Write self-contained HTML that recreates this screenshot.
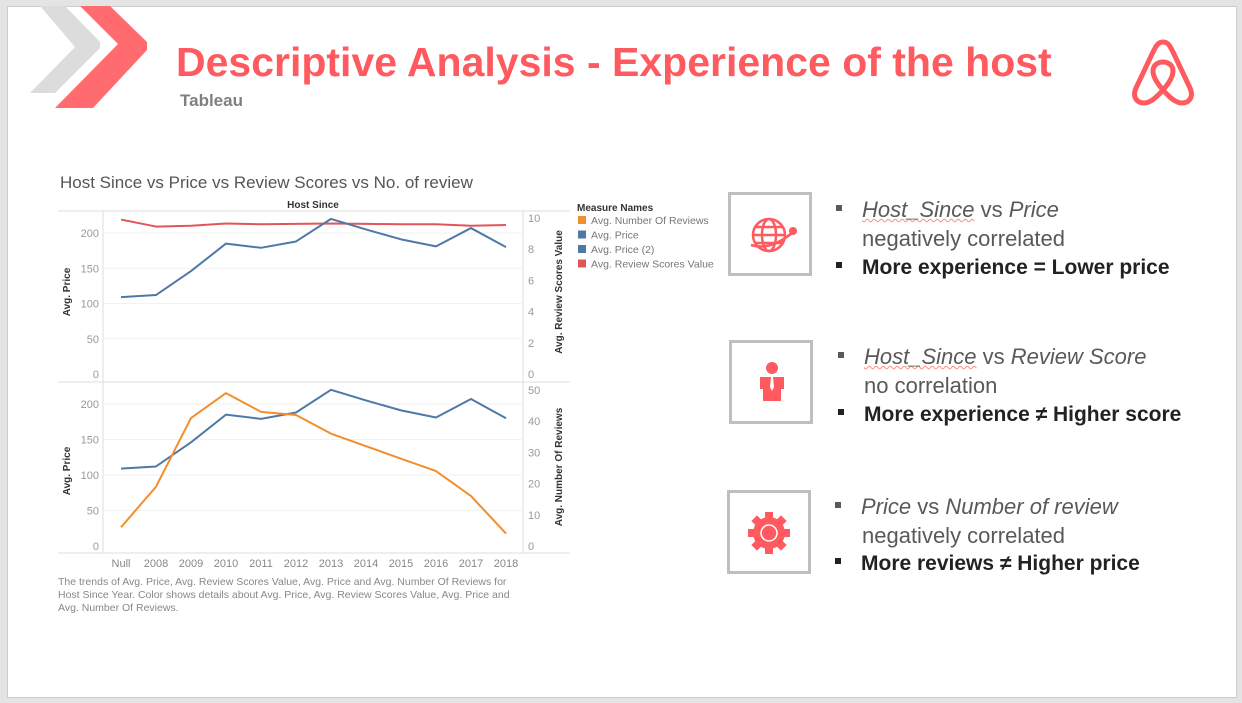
<!DOCTYPE html>
<html><head><meta charset="utf-8"><style>
body{margin:0;width:1242px;height:703px;background:#e4e4e4;font-family:"Liberation Sans",sans-serif;overflow:hidden;position:relative}
#slide{position:absolute;left:7px;top:6px;width:1228px;height:690px;background:#fff;border:1px solid #ccc}
.t{position:absolute;white-space:nowrap}
.box{position:absolute;width:78px;height:78px;border:3px solid #bfbfbf}
.b{position:absolute;font-size:22px;color:#595959;white-space:nowrap;line-height:29px}
.sq{display:inline-block;width:6px;height:6px;background:#595959;vertical-align:middle;margin-right:20px;position:relative;top:-3px}
</style></head><body>
<div id="slide"></div>
<svg class="t" style="left:0;top:0" width="160" height="115">
<polygon points="40,6 65,6 100,42 100,48 55,93 30,93 75,47" fill="#dcdcdc"/>
<polygon points="80,6 110,6 147,42 147,50 93,108 55,108 118,44" fill="#ff6b6e"/>
</svg>
<div class="t" style="left:176px;top:39px;font-size:41px;font-weight:bold;color:#ff5a5f">Descriptive Analysis - Experience of the host</div>
<div class="t" style="left:180px;top:91px;font-size:17px;font-weight:bold;color:#7f7f7f">Tableau</div>
<svg class="t" style="left:1130px;top:38px" width="66" height="68" viewBox="0 0 66 68">
<path d="M33 4 C28 4 26 8 23 14 L6 50 C2 59 7 65 14 65 C20 65 26 60 33 52 C40 60 46 65 52 65 C59 65 64 59 60 50 L43 14 C40 8 38 4 33 4 Z M33 52 C26 44 23 38 23 33 C23 27 28 24 33 24 C38 24 43 27 43 33 C43 38 40 44 33 52 Z" fill="none" stroke="#ff5a5f" stroke-width="5" stroke-linejoin="round"/>
</svg>
<div class="t" style="left:60px;top:173px;font-size:17px;color:#555">Host Since vs Price vs Review Scores vs No. of review</div>
<svg id="chart" class="t" style="left:0;top:0" width="740" height="640"></svg>
<div class="t" style="left:58px;top:576px;font-size:10.5px;color:#888;line-height:13px;white-space:normal;width:468px">The trends of Avg. Price, Avg. Review Scores Value, Avg. Price and Avg. Number Of Reviews for Host Since Year.  Color shows details about Avg. Price, Avg. Review Scores Value, Avg. Price and Avg. Number Of Reviews.</div>

<div class="box" style="left:728px;top:192px">
<svg width="78" height="78" viewBox="0 0 78 78"><g fill="none" stroke="#ff5a5f" stroke-width="2.5"><circle cx="38" cy="40" r="16"/><ellipse cx="38" cy="40" rx="7" ry="16"/><line x1="22" y1="40" x2="54" y2="40"/><line x1="24" y1="32" x2="52" y2="32"/><line x1="24" y1="48" x2="52" y2="48"/><path d="M20 50 Q40 56 62 37"/></g><circle cx="62" cy="36" r="4" fill="#ff5a5f"/></svg></div>
<div class="box" style="left:729px;top:340px">
<svg width="78" height="78" viewBox="0 0 78 78"><circle cx="40" cy="25" r="6" fill="#ff5a5f"/><path d="M28 34 L52 34 L52 46 L49 46 L49 58 L31 58 L31 46 L28 46 Z" fill="#ff5a5f"/><path d="M39 34 L41 34 L42 44 L40 48 L38 44 Z" fill="#fff"/></svg></div>
<div class="box" style="left:727px;top:490px">
<svg width="78" height="78" viewBox="0 0 78 78"><g fill="#ff5a5f"><circle cx="39" cy="40" r="16"/><g id="teeth"><rect x="35" y="19" width="8" height="8"/><rect x="35" y="53" width="8" height="8"/><rect x="18" y="36" width="8" height="8"/><rect x="52" y="36" width="8" height="8"/></g><use href="#teeth" transform="rotate(45 39 40)"/></g><circle cx="39" cy="40" r="8" fill="none" stroke="#fff" stroke-width="1.5"/></svg></div>

<div class="b" style="left:836px;top:195px"><span class="sq"></span><i style="text-decoration:underline wavy #f88;text-decoration-thickness:1px">Host_Since</i> vs <i>Price</i></div>
<div class="b" style="left:862px;top:224px">negatively correlated</div>
<div class="b" style="left:836px;top:253px;color:#222;font-weight:bold;font-size:21px"><span class="sq" style="background:#222"></span>More experience = Lower price</div>
<div class="b" style="left:838px;top:342px"><span class="sq"></span><i style="text-decoration:underline wavy #f88;text-decoration-thickness:1px">Host_Since</i> vs <i>Review Score</i></div>
<div class="b" style="left:864px;top:371px">no correlation</div>
<div class="b" style="left:838px;top:400px;color:#222;font-weight:bold;font-size:21px"><span class="sq" style="background:#222"></span>More experience ≠ Higher score</div>
<div class="b" style="left:835px;top:492px"><span class="sq"></span><i>Price</i> vs <i>Number of review</i></div>
<div class="b" style="left:862px;top:521px">negatively correlated</div>
<div class="b" style="left:835px;top:549px;color:#222;font-weight:bold;font-size:21px"><span class="sq" style="background:#222"></span>More reviews ≠ Higher price</div>

<script>
const categories=["Null","2008","2009","2010","2011","2012","2013","2014","2015","2016","2017","2018"];
const avgPrice=[109,112,146,185,179,188,220,205,191,181,207,180];
const avgReviewScore=[9.9,9.45,9.5,9.65,9.6,9.62,9.65,9.62,9.6,9.6,9.5,9.55];
const avgNumReviews=[6,19,41,49,43,42,36,32,28,24,16,4];
const priceTicks=[0,50,100,150,200];
const scoreTicks=[0,2,4,6,8,10];
const reviewTicks=[0,10,20,30,40,50];
const legendLabels=["Avg. Number Of Reviews","Avg. Price","Avg. Price (2)","Avg. Review Scores Value"];
const legendColors=["#f28e2b","#4e79a7","#4e79a7","#e15759"];

const svg=document.getElementById('chart');
const NS="http://www.w3.org/2000/svg";
function el(t,a,p){const e=document.createElementNS(NS,t);for(const k in a)e.setAttribute(k,a[k]);(p||svg).appendChild(e);return e;}
const xL=103,xR=523;
const x=i=>121+i*35;
const yTopP=v=>374-v*(141/200);
const yTopS=v=>374-v*15.6;
const yBotP=v=>546-v*(142/200);
const yBotR=v=>546-v*3.12;

let e;
e=el('line',{x1:58,x2:570,y1:211,y2:211,stroke:'#ddd'});


e=el('line',{x1:58,x2:570,y1:382,y2:382,stroke:'#ddd'});


e=el('line',{x1:58,x2:570,y1:553,y2:553,stroke:'#ddd'});


e=el('line',{x1:xL,x2:xL,y1:211,y2:553,stroke:'#ddd'});


e=el('line',{x1:xR,x2:xR,y1:211,y2:553,stroke:'#ddd'});


e=el('text',{x:313,y:208,'font-size':10,'font-weight':'bold','text-anchor':'middle',fill:'#333'});e.textContent='Host Since';



function tickLabel(txt,xx,yy,anchor,name){const t=el('text',{x:xx,y:yy+4,'font-size':11,'text-anchor':anchor,fill:'#999'});t.textContent=txt;

}
priceTicks.forEach(v=>{
 if(v>0){const g=el('line',{x1:xL,x2:xR,y1:yTopP(v),y2:yTopP(v),stroke:'#f2f2f2'});
 const g2=el('line',{x1:xL,x2:xR,y1:yBotP(v),y2:yBotP(v),stroke:'#f2f2f2'});}
 tickLabel(v,99,yTopP(v),'end','top-price-tick');
 tickLabel(v,99,yBotP(v),'end','bottom-price-tick');
});
scoreTicks.forEach(v=>tickLabel(v,528,yTopS(v),'start','score-tick'));
reviewTicks.forEach(v=>tickLabel(v,528,yBotR(v),'start','reviews-tick'));
categories.forEach((c,i)=>{const t=el('text',{x:x(i),y:567,'font-size':11,'text-anchor':'middle',fill:'#888'});t.textContent=c;

});

function vlabel(txt,xx,yy,name){const t=el('text',{x:xx,y:yy,'font-size':10,'font-weight':'bold','text-anchor':'middle',fill:'#333',transform:`rotate(-90 ${xx} ${yy})`});t.textContent=txt;

}
vlabel('Avg. Price',70,292,'top-y-axis-title');
vlabel('Avg. Price',70,471,'bottom-y-axis-title');
vlabel('Avg. Review Scores Value',562,292,'right-y-axis-title-top');
vlabel('Avg. Number Of Reviews',562,467,'right-y-axis-title-bottom');

function line(vals,xf,yf,color,name){const p=el('polyline',{points:vals.map((v,i)=>xf(i)+','+yf(v)).join(' '),fill:'none',stroke:color,'stroke-width':2,'stroke-linejoin':'round'});

}
line(avgReviewScore,x,yTopS,'#e15759','review-score-line');
line(avgPrice,x,yTopP,'#4e79a7','price-line-top');
line(avgPrice,x,yBotP,'#4e79a7','price-line-bottom');
line(avgNumReviews,x,yBotR,'#f28e2b','reviews-line');

e=el('text',{x:577,y:211,'font-size':10,'font-weight':'bold',fill:'#333'});e.textContent='Measure Names';


legendLabels.forEach((l,i)=>{const yy=221+i*14.5;
 const r=el('rect',{x:578,y:yy-5,width:8,height:8,fill:legendColors[i]});
 
 
 const t=el('text',{x:591,y:yy+3,'font-size':10.5,fill:'#777'});t.textContent=l;
 
 
});
</script>
</body></html>
